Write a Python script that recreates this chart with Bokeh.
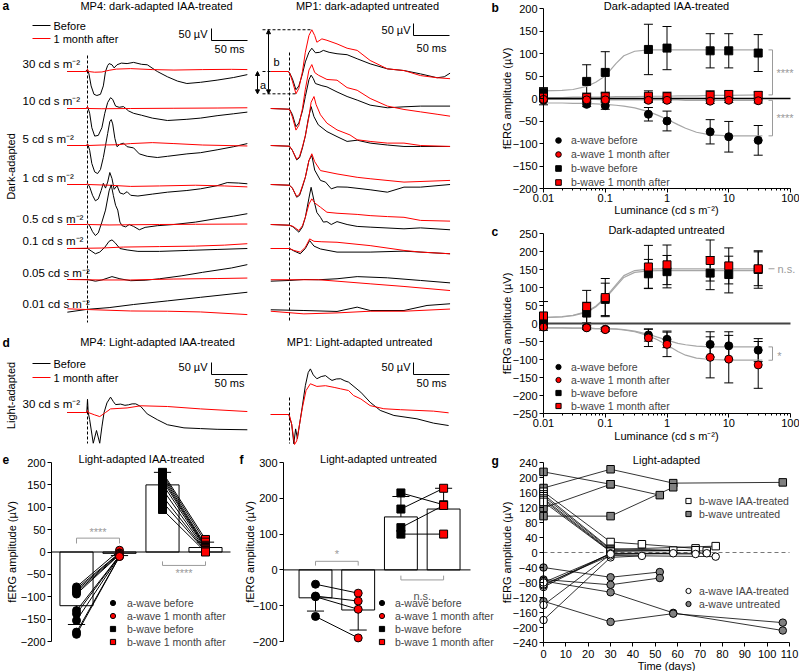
import math
from bokeh.plotting import figure
from bokeh.models import (Range1d, Label, Legend, LegendItem, Whisker, TeeHead,
                          ColumnDataSource, FixedTicker, CustomJSTickFormatter,
                          Arrow, NormalHead)
from bokeh.layouts import row, column
from bokeh.embed import file_html
from bokeh.resources import INLINE

FONT = "Liberation Sans"
RED = "#ff0000"
FITGREY = "#a6a6a6"
SIGGREY = "#9a9a9a"
MARKGREY = "#808080"
FS = "11px"       # titles / axis titles
LFS = "10.5px"    # legends
TFS = "11px"      # tick labels

# ======================= DATA =======================
# ---- panel a: ERG traces (time ms, amplitude µV) ----
da_levels = ["30", "10", "5", "1", "0.5", "0.1", "0.05", "0.01"]

mp4_da_30_before = [(-28,0),(-3,0),(0,8),(1,0),(2,-10),(5,-60),(9,-95),(13,-100),(18,-95),(22,-60),(25,0),(28,25),(30,33),(34,28),(37,15),(41,28),(47,35),(55,33),(64,38),(75,30),(83,28),(97,0),(111,-22),(125,-40),(138,-50),(157,-45),(180,-36),(203,-25),(222,-13)]
mp4_da_30_after = [(-28,0),(-1,0),(0,10),(1,0),(10,-3),(20,-2),(30,5),(40,10),(60,12),(90,8),(120,6),(160,8),(200,9),(222,8)]
mp4_da_10_before = [(-28,0),(-2,0),(0,6),(1,0),(3,-20),(6,-80),(10,-115),(15,-112),(20,-80),(24,-20),(28,25),(32,45),(35,38),(39,10),(44,5),(50,8),(57,-10),(64,-20),(75,-28),(90,-40),(111,-50),(138,-45),(157,-40),(180,-30),(203,-22),(222,-15)]
mp4_da_10_after = [(-28,0),(-1,0),(0,8),(1,0),(20,-1),(60,0),(120,1),(180,2),(222,3)]
mp4_da_5_before = [(-28,0),(-1,0),(0,6),(1,0),(3,-20),(6,-75),(10,-110),(14,-117),(18,-100),(22,-50),(25,0),(28,50),(31,100),(33,108),(35,90),(38,30),(41,-5),(45,5),(50,10),(55,-5),(64,-10),(72,-35),(83,-45),(97,-50),(111,-45),(138,-35),(157,-30),(180,-18),(203,-5),(222,8)]
mp4_da_5_after = [(-28,0),(-1,0),(0,6),(1,0),(20,2),(40,3),(60,8),(90,12),(120,8),(160,2),(222,-2)]
mp4_da_1_before = [(-28,0),(-1,0),(0,4),(1,0),(3,-10),(7,-45),(11,-68),(15,-60),(19,-25),(22,5),(25,-15),(28,10),(31,50),(34,25),(37,-20),(41,-5),(45,-35),(50,-40),(55,-30),(60,-45),(70,-48),(90,-40),(111,-32),(138,-25),(157,-18),(180,-5),(194,8),(210,6),(222,3)]
mp4_da_1_after = [(-28,0),(-1,0),(0,5),(1,0),(30,-3),(60,-8),(100,-6),(150,-3),(190,-6),(222,-10)]
mp4_da_05_before = [(-28,0),(-1,0),(0,3),(3,-5),(7,-30),(11,-46),(15,-35),(20,10),(25,60),(30,140),(33,165),(36,120),(39,80),(42,60),(45,10),(48,-5),(53,-10),(58,0),(64,-8),(72,-22),(80,-12),(97,-5),(120,0),(150,10),(180,25),(203,35),(222,45)]
mp4_da_05_after = [(-28,0),(-1,0),(0,4),(1,0),(30,-2),(60,-1),(100,0),(150,1),(222,2)]
mp4_da_01_before = [(-28,0),(0,0),(5,-10),(11,-22),(17,-15),(24,5),(30,30),(34,36),(38,25),(45,0),(55,-6),(70,-12),(100,-12),(140,-8),(180,-4),(222,0)]
mp4_da_01_after = [(-28,0),(20,2),(50,6),(100,8),(150,10),(190,14),(222,20)]
mp4_da_005_before = [(-28,0),(0,0),(11,-7),(20,-2),(34,12),(45,3),(60,-5),(80,-3),(100,3),(130,15),(160,30),(200,48),(222,62)]
mp4_da_005_after = [(-28,0),(20,-2),(60,-2),(120,2),(180,4),(222,6)]
mp4_da_001_before = [(-28,-7),(0,5),(30,12),(64,25),(111,40),(157,55),(222,76)]
mp4_da_001_after = [(-28,7),(0,4),(60,-2),(111,-3),(157,-6),(222,-17)]

mp1_da_30_before = [(-26,0),(-2,0),(0,-5),(4,-30),(9,-76),(13,-60),(18,-10),(22,40),(27,80),(31,97),(36,78),(42,80),(47,88),(55,80),(66,74),(80,70),(94,53),(112,32),(136,11),(159,4),(182,-10),(205,-26),(215,-22),(223,-7)]
mp1_da_30_after = [(-26,0),(-2,0),(0,-5),(4,-40),(9,-93),(13,-70),(18,0),(22,80),(27,150),(31,174),(35,150),(38,122),(45,136),(52,130),(66,115),(80,97),(94,88),(112,46),(136,11),(159,4),(182,-17),(205,-26),(223,-30)]
mp1_da_10_before = [(-26,0),(0,-3),(4,-25),(9,-76),(13,-60),(18,-10),(22,50),(27,120),(30,139),(33,125),(36,104),(45,95),(52,90),(66,69),(80,50),(94,35),(112,14),(136,3),(159,7),(182,10),(223,10)]
mp1_da_10_after = [(-26,0),(0,-3),(4,-35),(9,-90),(13,-70),(18,0),(22,80),(27,160),(31,183),(35,150),(40,139),(52,121),(66,118),(80,87),(94,76),(112,42),(136,10),(159,-4),(182,-14),(205,-24),(223,-32)]
mp1_da_5_before = [(-26,0),(0,-3),(4,-20),(10,-60),(14,-50),(18,-10),(22,40),(26,110),(30,162),(34,120),(40,86),(52,58),(66,37),(80,17),(94,22),(112,10),(136,2),(159,-4),(182,-4),(223,-4)]
mp1_da_5_after = [(-26,0),(0,-3),(4,-20),(10,-57),(14,-45),(18,-5),(22,40),(27,120),(30,180),(34,204),(37,170),(43,128),(52,93),(66,65),(84,44),(94,24),(112,17),(136,10),(159,10),(182,0),(223,-4)]
mp1_da_1_before = [(-26,0),(0,-3),(4,-15),(10,-53),(14,-45),(18,-10),(22,30),(27,100),(31,121),(35,60),(43,17),(50,10),(58,-18),(66,-10),(80,-11),(112,-22),(136,-32),(159,-11),(182,-11),(223,0)]
mp1_da_1_after = [(-26,0),(0,-3),(4,-15),(10,-50),(14,-40),(18,-5),(22,30),(27,100),(31,128),(35,95),(43,58),(66,44),(94,30),(112,24),(159,10),(223,17)]
mp1_da_05_before = [(-26,0),(0,-3),(5,-10),(13,-32),(18,-10),(22,30),(27,110),(30,155),(34,100),(38,50),(43,30),(47,10),(52,12),(58,0),(66,12),(80,0),(94,-8),(112,-11),(159,-18),(182,-14),(223,-22)]
mp1_da_05_after = [(-26,0),(0,-3),(5,-8),(13,-25),(18,-5),(22,30),(27,85),(31,107),(35,90),(43,72),(52,51),(66,47),(94,42),(112,37),(136,33),(159,30),(182,17),(223,14)]
mp1_da_01_before = [(-26,0),(0,0),(6,-10),(15,-22),(22,0),(28,33),(34,10),(43,-2),(66,-15),(112,-15),(159,-11),(223,-22)]
mp1_da_01_after = [(-26,0),(0,0),(6,-8),(15,-15),(22,5),(28,40),(34,30),(45,28),(66,26),(112,12),(159,-8),(182,-15),(223,-22)]
mp1_da_005_before = [(-26,-7),(0,-4),(20,0),(40,-1),(66,3),(94,12),(136,7),(182,-4),(223,-14)]
mp1_da_005_after = [(-26,-1),(0,-1),(40,-1),(66,-7),(112,-18),(159,-29),(223,-46)]
mp1_da_001_before = [(-26,3),(20,0),(66,-4),(94,14),(112,0),(159,0),(191,21),(223,28)]
mp1_da_001_after = [(-26,-3),(20,-14),(66,-10),(112,-3),(159,-3),(223,6)]

# ---- panel d: light-adapted traces ----
mp4_la_before = [(-28,0),(-1,0),(0,55),(1,0),(3,-30),(8,-128),(12.5,-75),(17,-128),(20,-60),(23,0),(27,40),(32,64),(36,45),(39,33),(46,35),(52,30),(57,32),(62,36),(67,36),(74,25),(83,-6),(97,-30),(111,-51),(134,-64),(157,-67),(180,-70),(222,-72)]
mp4_la_after = [(-28,0),(-1,0),(0,8),(1,0),(10,-10),(17,-17),(25,0),(32,15),(55,19),(74,28),(111,25),(157,15),(222,4)]
mp1_la_before = [(-26,0),(-1,0),(0,-10),(3,-40),(6,-122),(8.5,-60),(11,-100),(14,-40),(17.6,30),(22,120),(26,175),(29,190),(33,165),(38,149),(44,158),(50,162),(55,150),(59,142),(65,148),(71,149),(77,140),(82,135),(99,93),(112,51),(126,17),(145,-4),(177,-18),(200,-36),(221,-46)]
mp1_la_after = [(-26,0),(-1,0),(0,-5),(3,-40),(7,-125),(10,-110),(14,-40),(18,30),(23,100),(29,128),(38,117),(50,120),(62,113),(71,107),(82,100),(89,79),(99,65),(112,37),(131,24),(154,20),(200,14),(221,7)]

# ---- panels b, c: luminance response ----
lum = [0.01, 0.05, 0.1, 0.5, 1, 5, 10, 30]
lum_ticks = [0.01, 0.1, 1, 10, 100]

b_awave_before = [-4, -13, -16, -35, -50, -74, -85, -93]
b_awave_before_err = [10, 5, 8, 15, 22, 27, 34, 33]
b_awave_after = [-2, -3, -3, -4, -4, -6, -4, -5]
b_awave_after_err = [5, 5, 5, 5, 5, 5, 5, 5]
b_bwave_before = [14, 38, 58, 109, 112, 106, 106, 101]
b_bwave_before_err = [10, 37, 46, 56, 48, 38, 38, 41]
b_bwave_after = [3, 2, 4, 5, 4, 7, 9, 7]
b_bwave_after_err = [8, 10, 10, 12, 10, 10, 8, 8]

fit_lum = [0.01, 0.02, 0.03, 0.05, 0.07, 0.1, 0.15, 0.2, 0.3, 0.5, 0.7, 1, 1.5, 2, 3, 5, 10, 35]
b_fit_bwave_before = [17, 18, 20, 27, 36, 50, 78, 95, 105, 108, 108, 108, 108, 108, 108, 108, 108, 108]
b_fit_awave_before = [-10, -10, -11, -11, -12, -13, -15, -17, -21, -29, -37, -46, -58, -66, -75, -81, -83, -83]
b_fit_bwave_after = [2, 2, 3, 3, 3, 3, 4, 4, 4, 5, 5, 5, 6, 6, 6, 7, 7, 8]
b_fit_awave_after = [-2, -2, -2, -2, -2, -3, -3, -3, -3, -3, -3, -3, -3, -4, -4, -4, -4, -4]

c_awave_before = [-8, -11, -16, -32, -44, -58, -62, -74]
c_awave_before_err = [5, 5, 5, 17, 23, 35, 39, 32]
c_awave_after = [-10, -12, -17, -40, -58, -94, -99, -115]
c_awave_after_err = [5, 5, 5, 24, 34, 57, 66, 65]
c_bwave_before = [8, 29, 67, 138, 144, 140, 136, 150]
c_bwave_before_err = [15, 30, 45, 40, 45, 46, 51, 52]
c_bwave_after = [21, 47, 72, 157, 163, 175, 160, 152]
c_bwave_after_err = [40, 45, 53, 60, 55, 57, 50, 47]

c_fit_bwave_before = [16, 18, 22, 31, 46, 69, 104, 128, 142, 146, 147, 147, 147, 147, 147, 147, 147, 147]
c_fit_bwave_after = [17, 19, 23, 33, 48, 72, 108, 133, 147, 151, 152, 152, 152, 152, 152, 152, 152, 152]
c_fit_awave_before = [-12, -12, -13, -13, -14, -14, -15, -17, -21, -30, -38, -46, -55, -59, -63, -65, -65, -65]
c_fit_awave_after = [-12, -12, -13, -13, -14, -14, -16, -18, -23, -34, -45, -60, -78, -88, -96, -100, -102, -102]

# ---- panel e: light-adapted IAA-treated ----
e_bar_mean = [-120, -3, 150, 10]
e_bar_err = [42, 5, 28, 12]
e_awave_before = [-78, -82, -86, -90, -94, -131, -138, -153, -179, -184]
e_awave_after = [4, -2, -3, -5, -6, -8, -8, -9, -10, -10]
e_bwave_before = [178, 174, 170, 165, 160, 152, 140, 125, 112, 95]
e_bwave_after = [28, 22, 15, 12, 10, 8, 5, 3, 2, 0]

# ---- panel f: light-adapted untreated ----
f_bar_mean = [-78, -112, 148, 170]
f_bar_err = [37, 56, 57, 58]
f_awave_before = [-40, -73, -75, -130]
f_awave_after = [-65, -87, -110, -190]
f_bwave_before = [215, 170, 118, 100]
f_bwave_after = [182, 228, 180, 100]

# ---- panel g: light-adapted time course ----
g_bwave_iaa_days = [[0, 30, 44, 68], [0, 30, 73], [0, 30, 77], [0, 30, 58], [0, 30, 68], [0, 30]]
g_bwave_iaa = [[162, 28, 22, 11], [155, 10, 4], [150, 8, 17], [144, 5, 5], [140, 3, 6], [135, 2]]
g_bwave_untr_days = [[0, 30, 52], [0, 30, 58, 107], [0, 30, 58], [0, 30]]
g_bwave_untr = [[215, 182, 153], [172, 222, 185, 187], [97, 97, 174], [119, 182]]
g_awave_iaa_days = [[0, 30, 44], [0, 30, 58], [0, 30, 68], [0, 30, 73], [0, 30, 77], [0, 30]]
g_awave_iaa = [[-180, -13, -9], [-140, -5, -2], [-92, -3, -4], [-88, -2, -2], [-85, -8, -11], [-80, -4]]
g_awave_untr_days = [[0, 30, 52], [0, 30, 52], [0, 30, 58, 107], [0, 30, 58, 107]]
g_awave_untr = [[-40, -66, -52], [-72, -86, -68], [-76, -106, -161, -208], [-130, -185, -163, -187]]
g_xticks = list(range(0, 111, 10))
g_yticks = list(range(-240, 241, 40))

# ======================= HELPERS =======================
YTITLE = "fERG amplitude (\u00b5V)"
LUMTITLE = "Luminance (cd s m\u207b\u00b2)"


def lab(p, x, y, text, size=FS, align="center", baseline="middle", angle=0,
        color="black", style="normal"):
    p.add_layout(Label(x=x, y=y, text=text, text_font=FONT, text_font_size=size,
                       text_align=align, text_baseline=baseline, angle=angle,
                       text_color=color, text_font_style=style))


def base_fig(w, h, xr, yr, **kw):
    p = figure(width=w, height=h, x_range=xr, y_range=yr, output_backend="svg",
               toolbar_location=None, min_border_left=0, min_border_right=0,
               min_border_top=0, min_border_bottom=0, **kw)
    p.outline_line_color = None
    p.grid.visible = False
    for ax in p.axis:
        ax.axis_line_color = "black"
        ax.axis_line_width = 1
        ax.major_tick_line_color = "black"
        ax.major_tick_out = 4
        ax.major_tick_in = 0
        ax.minor_tick_line_color = None
        ax.major_label_text_font = FONT
        ax.major_label_text_font_size = TFS
        ax.major_label_text_color = "black"
        ax.major_label_standoff = 2
    for ax in p.xaxis:
        ax.major_label_standoff = 1
    return p


def make_legend(p, entries, loc, gw=20, gh=14, standoff=3):
    items = []
    for text, rend in entries:
        ln = p.line(x=[], y=[], line_color="black", line_width=1)
        items.append(LegendItem(label=text, renderers=[ln, rend]))
    lg = Legend(items=items, location=loc, glyph_width=gw, glyph_height=gh,
                label_height=gh, label_standoff=standoff, spacing=0, padding=0,
                margin=0, border_line_color=None, background_fill_alpha=0,
                label_text_font=FONT, label_text_font_size=LFS)
    p.add_layout(lg)


def whisk(p, xs, ys, errs, size=9):
    src = ColumnDataSource(dict(base=xs, lower=[y - e for y, e in zip(ys, errs)],
                                upper=[y + e for y, e in zip(ys, errs)]))
    p.add_layout(Whisker(source=src, base="base", lower="lower", upper="upper",
                         line_color="black", line_width=1, level="underlay",
                         upper_head=TeeHead(size=size, line_color="black", line_width=1),
                         lower_head=TeeHead(size=size, line_color="black", line_width=1)))

# ======================= PANELS a + d =======================
T0L, T0R, MS_PX, UV_PX = 87, 289, 0.72, 0.24
def ax_(x): return (x - T0L) / MS_PX
def ay_(y): return -y / UV_PX
SHIFT_R = (T0R - T0L) / MS_PX
AD_W, AD_H = 500, 450

pa = figure(width=AD_W, height=AD_H, x_range=Range1d(ax_(0), ax_(AD_W)),
            y_range=Range1d(ay_(AD_H), ay_(0)), x_axis_location=None, y_axis_location=None,
            output_backend="svg", toolbar_location=None, min_border=0)
pa.outline_line_color = None
pa.grid.visible = False

def trace(pts, shift, base_y, color):
    pa.line([t + shift for t, v in pts], [v + ay_(base_y) for t, v in pts],
            line_color=color, line_width=1)

da_row_y = [71, 108, 145, 184, 224, 248, 279, 310]
da_label_y = [63, 100, 138, 177, 218, 240, 272, 303]
mp4_b = [mp4_da_30_before, mp4_da_10_before, mp4_da_5_before, mp4_da_1_before, mp4_da_05_before, mp4_da_01_before, mp4_da_005_before, mp4_da_001_before]
mp4_a = [mp4_da_30_after, mp4_da_10_after, mp4_da_5_after, mp4_da_1_after, mp4_da_05_after, mp4_da_01_after, mp4_da_005_after, mp4_da_001_after]
mp1_b = [mp1_da_30_before, mp1_da_10_before, mp1_da_5_before, mp1_da_1_before, mp1_da_05_before, mp1_da_01_before, mp1_da_005_before, mp1_da_001_before]
mp1_a = [mp1_da_30_after, mp1_da_10_after, mp1_da_5_after, mp1_da_1_after, mp1_da_05_after, mp1_da_01_after, mp1_da_005_after, mp1_da_001_after]

pa.line([0, 0], [ay_(55), ay_(322)], line_color="black", line_width=1, line_dash="3 2")
pa.line([SHIFT_R, SHIFT_R], [ay_(52), ay_(322)], line_color="black", line_width=1, line_dash="3 2")
pa.line([0, 0], [ay_(401), ay_(443)], line_color="black", line_width=1, line_dash="3 2")
pa.line([SHIFT_R, SHIFT_R], [ay_(397), ay_(443)], line_color="black", line_width=1, line_dash="3 2")

for i, lvl in enumerate(da_levels):
    y0 = da_row_y[i]
    trace(mp4_b[i], 0, y0, "black")
    trace(mp4_a[i], 0, y0, RED)
    trace(mp1_b[i], SHIFT_R, y0, "black")
    trace(mp1_a[i], SHIFT_R, y0, RED)
    lab(pa, ax_(22), ay_(da_label_y[i]), f"{lvl} cd s m\u207b\u00b2", size="11.5px", align="left")

trace(mp4_la_before, 0, 412, "black")
trace(mp4_la_after, 0, 412, RED)
trace(mp1_la_before, SHIFT_R, 414, "black")
trace(mp1_la_after, SHIFT_R, 414, RED)
lab(pa, ax_(22), ay_(403), "30 cd s m\u207b\u00b2", size="11.5px", align="left")

pk_t, pk_v = max(mp1_da_30_after, key=lambda q: q[1])
tr_t, tr_v = min(mp1_da_30_after, key=lambda q: q[1])
base0 = ay_(da_row_y[0])
pa.line([ax_(262), pk_t + SHIFT_R], [base0 + pk_v] * 2, line_color="black", line_width=1, line_dash="3 2")
pa.line([ax_(262), tr_t + SHIFT_R], [base0 + tr_v] * 2, line_color="black", line_width=1, line_dash="3 2")
pa.line([ax_(262), ax_(270)], [base0] * 2, line_color="black", line_width=1, line_dash="3 2")
pa.add_layout(Arrow(x_start=ax_(268), y_start=base0 + tr_v, x_end=ax_(268), y_end=base0 + pk_v,
                    line_color="black", line_width=1,
                    start=NormalHead(size=4, line_color="black", fill_color="black"),
                    end=NormalHead(size=4, line_color="black", fill_color="black")))
pa.add_layout(Arrow(x_start=ax_(257), y_start=base0, x_end=ax_(257), y_end=base0 + tr_v,
                    line_color="black", line_width=1,
                    start=NormalHead(size=4, line_color="black", fill_color="black"),
                    end=NormalHead(size=4, line_color="black", fill_color="black")))
lab(pa, ax_(262.5), ay_(84), "a")
lab(pa, ax_(276), ay_(61), "b")

for sx_, sy_ in [(211, 28), (413, 23), (211, 362), (413, 362)]:
    x0, y0 = ax_(sx_), ay_(sy_)
    pa.line([x0, x0, x0 + 50], [y0, y0 - 50, y0 - 50], line_color="black", line_width=1)
lab(pa, ax_(207), ay_(33), "50 \u00b5V", align="right")
lab(pa, ax_(229), ay_(48), "50 ms")
lab(pa, ax_(410), ay_(29), "50 \u00b5V", align="right")
lab(pa, ax_(431), ay_(47), "50 ms")
lab(pa, ax_(207), ay_(366), "50 \u00b5V", align="right")
lab(pa, ax_(229), ay_(382), "50 ms")
lab(pa, ax_(410), ay_(366), "50 \u00b5V", align="right")
lab(pa, ax_(431), ay_(382), "50 ms")

for ky, col, txt in [(25, "black", "Before"), (38, RED, "1 month after"),
                     (363, "black", "Before"), (377, RED, "1 month after")]:
    pa.line([ax_(32), ax_(50)], [ay_(ky)] * 2, line_color=col, line_width=1)
    lab(pa, ax_(53), ay_(ky), txt, align="left")

lab(pa, ax_(156), ay_(5), "MP4: dark-adapted IAA-treated")
lab(pa, ax_(367), ay_(5), "MP1: dark-adapted untreated")
lab(pa, ax_(157), ay_(341), "MP4: Light-adapted IAA-treated")
lab(pa, ax_(359), ay_(341), "MP1: Light-adapted untreated")
lab(pa, ax_(10), ay_(166), "Dark-adapted", angle=math.pi / 2)
lab(pa, ax_(10), ay_(395), "Light-adapted", angle=math.pi / 2)
for letter, lx, ly in [("a", 2, 5), ("d", 2, 342), ("b", 491, 7), ("c", 491, 231)]:
    lab(pa, ax_(lx), ay_(ly), letter, size="12px", align="left", style="bold")

# ======================= PANELS b, c =======================
RW = 299
minor_lum = [m * 10 ** e for e in range(-2, 2) for m in range(2, 10)]
def bx(x): return 10 ** (-2 + (x - 543) / 61.75)

def lum_panel(h, yr, yticks):
    p = base_fig(RW, h, Range1d(bx(500), bx(799)), Range1d(*yr), x_axis_type="log")
    p.xaxis.ticker = FixedTicker(ticks=lum_ticks, minor_ticks=minor_lum)
    p.xaxis.formatter = CustomJSTickFormatter(code="return String(tick);")
    p.xaxis.minor_tick_line_color = "black"
    p.xaxis.minor_tick_out = 2
    p.xaxis.minor_tick_in = 0
    p.xaxis.bounds = (lum_ticks[0], lum_ticks[-1])
    p.xaxis.fixed_location = yticks[0]
    p.yaxis.ticker = FixedTicker(ticks=yticks)
    p.yaxis.bounds = (yticks[0], yticks[-1])
    p.yaxis.fixed_location = lum_ticks[0]
    return p

def lum_content(p, fits, series, errs, zero_w, zero_col):
    for fy_ in fits:
        p.line(fit_lum, fy_, line_color=FITGREY, line_width=1.2)
    p.line([lum_ticks[0], lum_ticks[-1]], [0, 0], line_color=zero_col, line_width=zero_w)
    for ys, es in zip(series, errs):
        whisk(p, lum, ys, es)
    r_bb = p.scatter(lum, series[2], marker="square", size=8, fill_color="black", line_color="black")
    r_ab = p.scatter(lum, series[0], marker="circle", size=8, fill_color="black", line_color="black")
    r_ba = p.scatter(lum, series[3], marker="square", size=8, fill_color=RED, line_color="black")
    r_aa = p.scatter(lum, series[1], marker="circle", size=8, fill_color=RED, line_color="black")
    return r_ab, r_aa, r_bb, r_ba

# b : canvas y 0..216, -200 at 188, 200 at 8
b_yticks = list(range(-200, 201, 50))
def by(y): return 200 - (y - 8) * 400 / 180
pb = lum_panel(216, (by(216), by(0)), b_yticks)
rb = lum_content(pb, [b_fit_bwave_before, b_fit_awave_before, b_fit_bwave_after, b_fit_awave_after],
                 [b_awave_before, b_awave_after, b_bwave_before, b_bwave_after],
                 [b_awave_before_err, b_awave_after_err, b_bwave_before_err, b_bwave_after_err], 1.3, "black")
make_legend(pb, [("a-wave before", rb[0]), ("a-wave 1 month after", rb[1]),
                 ("b-wave before", rb[2]), ("b-wave 1 month after", rb[3])], (48, 27), gw=20, gh=14, standoff=3)
top_b, bot_b = b_fit_bwave_before[-1], b_fit_bwave_after[-1]
pb.line([bx(768), bx(772), bx(772), bx(768)], [top_b, top_b, bot_b, bot_b], line_color=SIGGREY, line_width=1)
top_a, bot_a = b_fit_awave_after[-1], b_fit_awave_before[-1]
pb.line([bx(768), bx(772), bx(772), bx(768)], [top_a, top_a, bot_a, bot_a], line_color=SIGGREY, line_width=1)
lab(pb, bx(776), by(72), "****", align="left", color=SIGGREY)
lab(pb, bx(776), by(117), "****", align="left", color=SIGGREY)
lab(pb, bx(666), by(5), "Dark-adapted IAA-treated")
lab(pb, bx(506), by(98), YTITLE, angle=math.pi / 2)
lab(pb, bx(666), by(209), LUMTITLE)

# c : canvas y 216..443, -250 at 413, 250 at 233
c_yticks = list(range(-250, 251, 50))
def cy(y): return 250 - (y - 233) * 500 / 180
pc = lum_panel(443 - 216, (cy(443), cy(216)), c_yticks)
rc = lum_content(pc, [c_fit_bwave_before, c_fit_bwave_after, c_fit_awave_before, c_fit_awave_after],
                 [c_awave_before, c_awave_after, c_bwave_before, c_bwave_after],
                 [c_awave_before_err, c_awave_after_err, c_bwave_before_err, c_bwave_after_err], 2, "#444444")
make_legend(pc, [("a-wave before", rc[0]), ("a-wave 1 month after", rc[1]),
                 ("b-wave before", rc[2]), ("b-wave 1 month after", rc[3])], (48, 31), gw=20, gh=13, standoff=3)
pc.line([bx(768), bx(774)], [c_fit_bwave_after[-1]] * 2, line_color=SIGGREY, line_width=1)
lab(pc, bx(777), c_fit_bwave_after[-1], "n.s.", align="left", color=SIGGREY)
ta, ba = c_fit_awave_before[-1], c_fit_awave_after[-1]
pc.line([bx(768), bx(772), bx(772), bx(768)], [ta, ta, ba, ba], line_color=SIGGREY, line_width=1)
lab(pc, bx(779), cy(355), "*", align="center", color=SIGGREY)
lab(pc, bx(666), cy(229), "Dark-adapted untreated")
lab(pc, bx(506), cy(323), YTITLE, angle=math.pi / 2)
lab(pc, bx(666), cy(435), LUMTITLE)

# ======================= PANEL g : canvas y 443..671 =======================
def gx(x): return (x - 543) * 110 / 246
def gy(y): return 240 - (y - 462) * 480 / 180
pg = base_fig(RW, 671 - 443, Range1d(gx(500), gx(799)), Range1d(gy(671), gy(443)))
pg.xaxis.ticker = FixedTicker(ticks=g_xticks)
pg.yaxis.ticker = FixedTicker(ticks=g_yticks)
pg.xaxis.bounds = (g_xticks[0], g_xticks[-1])
pg.yaxis.bounds = (g_yticks[0], g_yticks[-1])
pg.xaxis.fixed_location = g_yticks[0]
pg.yaxis.fixed_location = g_xticks[0]
pg.xaxis.major_label_standoff = 3
pg.line([g_xticks[0], g_xticks[-1]], [0, 0], line_color="#777777", line_width=1, line_dash="4 3")
for dd, vv in zip(g_bwave_untr_days + g_bwave_iaa_days + g_awave_untr_days + g_awave_iaa_days,
                  g_bwave_untr + g_bwave_iaa + g_awave_untr + g_awave_iaa):
    pg.line(dd, vv, line_color="black", line_width=0.8)
def flat(ll): return [v for l in ll for v in l]
r_bu = pg.scatter(flat(g_bwave_untr_days), flat(g_bwave_untr), marker="square", size=7.5, fill_color=MARKGREY, line_color="black")
r_bi = pg.scatter(flat(g_bwave_iaa_days), flat(g_bwave_iaa), marker="square", size=7.5, fill_color="white", line_color="black")
r_au = pg.scatter(flat(g_awave_untr_days), flat(g_awave_untr), marker="circle", size=7.5, fill_color=MARKGREY, line_color="black")
r_ai = pg.scatter(flat(g_awave_iaa_days), flat(g_awave_iaa), marker="circle", size=7.5, fill_color="white", line_color="black")
make_legend(pg, [("b-wave IAA-treated", r_bi), ("b-wave untreated", r_bu)], (180, 151), gw=16, gh=13, standoff=3)
make_legend(pg, [("a-wave IAA-treated", r_ai), ("a-wave untreated", r_au)], (180, 61), gw=16, gh=13, standoff=3)
lab(pg, gx(666), gy(459), "Light-adapted")
lab(pg, gx(506), gy(552), YTITLE, angle=math.pi / 2)
lab(pg, gx(666), gy(665), "Time (days)")

# ======================= PANELS e, f : canvas y 450..671 =======================
idx = [0, 1, 2, 3]
TOPY, BOTY = 462, 641
EH = 671 - AD_H

def bar_panel(p, means, errs, ab, aa, bb, ba, cap, zero_x0, zero_x1):
    p.vbar(x=idx, top=means, bottom=0, width=0.77, fill_color="white", line_color="black", line_width=1)
    ends = [m - e if m < 0 else m + e for m, e in zip(means, errs)]
    p.segment(x0=idx, y0=means, x1=idx, y1=ends, line_color="black", line_width=1)
    p.segment(x0=[i - cap for i in idx], y0=ends, x1=[i + cap for i in idx], y1=ends, line_color="black", line_width=1)
    p.segment(x0=[zero_x0], y0=[0], x1=[zero_x1], y1=[0], line_color="black", line_width=1)
    p.multi_line(xs=[[0, 1]] * len(ab), ys=[[u, v] for u, v in zip(ab, aa)], line_color="black", line_width=1)
    p.multi_line(xs=[[2, 3]] * len(bb), ys=[[u, v] for u, v in zip(bb, ba)], line_color="black", line_width=1)
    r1 = p.scatter([0] * len(ab), ab, marker="circle", size=8, fill_color="black", line_color="black")
    r2 = p.scatter([1] * len(aa), aa, marker="circle", size=8, fill_color=RED, line_color="black")
    r3 = p.scatter([2] * len(bb), bb, marker="square", size=8, fill_color="black", line_color="black")
    r4 = p.scatter([3] * len(ba), ba, marker="square", size=8, fill_color=RED, line_color="black")
    return r1, r2, r3, r4

def ex(x): return (x - 76) / 43
def ey(y): return 200 - (y - TOPY) * 400 / (BOTY - TOPY)
e_yticks = list(range(-200, 201, 50))
pe = base_fig(237, EH, Range1d(ex(0), ex(237)), Range1d(ey(671), ey(450)), x_axis_location=None)
pe.yaxis.ticker = FixedTicker(ticks=e_yticks)
pe.yaxis.bounds = (e_yticks[0], e_yticks[-1])
pe.yaxis.fixed_location = ex(51)
re_ = bar_panel(pe, e_bar_mean, e_bar_err, e_awave_before, e_awave_after, e_bwave_before, e_bwave_after,
                0.2, ex(51), ex(230))
make_legend(pe, [("a-wave before", re_[0]), ("a-wave 1 month after", re_[1]),
                 ("b-wave before", re_[2]), ("b-wave 1 month after", re_[3])], (103, 23), gw=19, gh=13, standoff=5)
pe.line([0, 0, 1, 1], [19, 31, 31, 19], line_color=SIGGREY, line_width=1)
pe.line([2, 2, 3, 3], [-21, -30, -30, -21], line_color=SIGGREY, line_width=1)
lab(pe, 0.5, ey(531), "****", color=SIGGREY)
lab(pe, 2.5, ey(572), "****", color=SIGGREY)
lab(pe, ex(141), ey(458), "Light-adapted IAA-treated")
lab(pe, ex(2), ey(459), "e", size="12px", align="left", style="bold")
lab(pe, ex(11), ey(551.5), YTITLE, angle=math.pi / 2)

def fx_(x): return (x - 315) / 42.7
def fy_(y): return 300 - (y - TOPY) * 500 / (BOTY - TOPY)
f_yticks = list(range(-200, 301, 100))
pf = base_fig(AD_W - 237, EH, Range1d(fx_(237), fx_(500)), Range1d(fy_(671), fy_(450)), x_axis_location=None)
pf.yaxis.ticker = FixedTicker(ticks=f_yticks)
pf.yaxis.bounds = (f_yticks[0], f_yticks[-1])
pf.yaxis.fixed_location = fx_(283)
rf = bar_panel(pf, f_bar_mean, f_bar_err, f_awave_before, f_awave_after, f_bwave_before, f_bwave_after,
               0.2, fx_(283), fx_(470))
make_legend(pf, [("a-wave before", rf[0]), ("a-wave 1 month after", rf[1]),
                 ("b-wave before", rf[2]), ("b-wave 1 month after", rf[3])], (135, 23), gw=19, gh=13, standoff=4)
pf.line([0, 0, 1, 1], [12, 24, 24, 12], line_color=SIGGREY, line_width=1)
pf.line([2, 2, 3, 3], [-16, -28, -28, -16], line_color=SIGGREY, line_width=1)
lab(pf, 0.5, fy_(553), "*", color=SIGGREY)
lab(pf, 2.5, fy_(595), "n.s.", color="#555555")
lab(pf, fx_(378), fy_(458), "Light-adapted untreated")
lab(pf, fx_(239), fy_(459), "f", size="12px", align="left", style="bold")
lab(pf, fx_(491), fy_(460), "g", size="12px", align="left", style="bold")
lab(pf, fx_(249), fy_(551.5), YTITLE, angle=math.pi / 2)

layout = row(column(pa, row(pe, pf)), column(pb, pc, pg))
open("out.html", "w").write(file_html(layout, INLINE))
